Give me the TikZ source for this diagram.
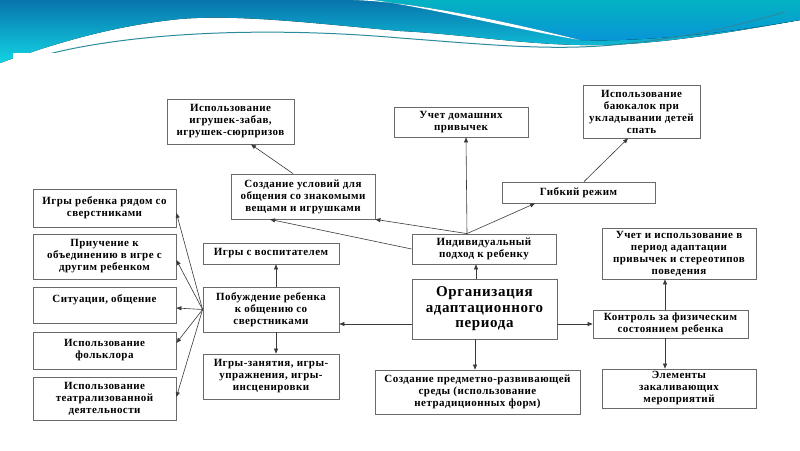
\documentclass[tikz,border=0pt]{standalone}
\usepackage{fontspec}
\setmainfont{Liberation Serif}[LetterSpace=4.0]
\usetikzlibrary{arrows.meta,calc}
\definecolor{hdrTop}{HTML}{0874AC}
\definecolor{hdrBot}{HTML}{12D4E4}
\definecolor{tealTop}{HTML}{04B2C2}
\definecolor{tealBot}{HTML}{0894D8}
\definecolor{waveLine}{HTML}{2A8C9E}
\definecolor{boxc}{HTML}{6A6A6A}
\definecolor{linec}{HTML}{3A3A3A}
\begin{document}
\begin{tikzpicture}[x=1pt,y=-1pt,
  bx/.style={draw=boxc, line width=0.8pt, fill=white, align=center, inner sep=1pt,
    font=\fontsize{11}{12}\selectfont\bfseries},
  con/.style={draw=linec, line width=0.6pt, -{Triangle[length=5pt,width=4pt]}}]
\useasboundingbox (0,0) rectangle (800,450);
\fill[white] (0,0) rectangle (800,450);
% header
\fill[top color=hdrTop, bottom color=hdrBot] (0,0) -- (800,0) -- (800,20)
  .. controls (700,38) and (640,46) .. (580,45)
  .. controls (520,44) and (460,34) .. (400,31)
  .. controls (320,24) and (240,14) .. (180,19)
  .. controls (110,26) and (50,45) .. (0,63) -- cycle;
\fill[top color=tealTop, bottom color=tealBot] (353,0) -- (800,0) -- (800,20)
  .. controls (720,34) and (640,42) .. (580,40)
  .. controls (520,25) and (420,2) .. (353,0) -- cycle;
\fill[white] (353,0) .. controls (420,2) and (520,25) .. (580,40)
  .. controls (520,30) and (430,8) .. (373,0) -- cycle;
\draw[waveLine, line width=1pt] (45,55) .. controls (120,35) and (250,25) .. (400,38)
  .. controls (480,44) and (540,50) .. (600,46) .. controls (680,40) and (740,25) .. (785,12);
\fill[white] (13,53) rectangle (778,450);
% nodes
\node[bx, minimum width=127, minimum height=45] (toys) at (230.5,121.5) {Использование\\игрушек-забав,\\игрушек-сюрпризов};
\node[bx, minimum width=144, minimum height=45] (usl) at (303,196.5) {Создание условий для\\общения со знакомыми\\вещами и игрушками};
\node[bx, minimum width=134, minimum height=30] (home) at (461,122) {Учет домашних\\привычек};
\node[bx, minimum width=117, minimum height=53] (bayu) at (641.5,111.5) {Использование\\баюкалок при\\укладывании детей\\спать};
\node[bx, minimum width=153, minimum height=21] (flex) at (578.5,192.5) {Гибкий режим};
\node[bx, minimum width=144, minimum height=30] (indiv) at (484,249) {Индивидуальный\\подход к ребенку};
\node[bx, minimum width=145, minimum height=60, font=\fontsize{15}{15.5}\selectfont\bfseries] (org) at (484.5,309) {Организация\\адаптационного\\периода};
\node[bx, minimum width=205, minimum height=44] (sreda) at (477.5,392) {Создание предметно-развивающей\\среды (использование\\нетрадиционных форм)};
\node[bx, minimum width=136, minimum height=45] (pob) at (271,309.5) {Побуждение ребенка\\к общению со\\сверстниками};
\node[bx, minimum width=136, minimum height=21] (vosp) at (271,253.5) {Игры с воспитателем};
\node[bx, minimum width=136, minimum height=45] (zan) at (271,376.5) {Игры-занятия, игры-\\упражнения, игры-\\инсценировки};
\node[bx, minimum width=143, minimum height=38] (L1) at (104.5,208) {Игры ребенка рядом со\\сверстниками};
\node[bx, minimum width=143, minimum height=45] (L2) at (104.5,256.5) {Приучение к\\объединению в игре с\\другим ребенком};
\node[bx, minimum width=143, minimum height=36] (L3) at (104.5,305) {Ситуации, общение\\~};
\node[bx, minimum width=143, minimum height=37] (L4) at (104.5,350.5) {Использование\\фольклора};
\node[bx, minimum width=143, minimum height=43] (L5) at (104.5,398.5) {Использование\\театрализованной\\деятельности};
\node[bx, minimum width=154, minimum height=51] (uchet) at (679,253.5) {Учет и использование в\\период адаптации\\привычек и стереотипов\\поведения};
\node[bx, minimum width=155, minimum height=28] (kontr) at (670.5,324) {Контроль за физическим\\состоянием ребенка};
\node[bx, minimum width=154, minimum height=39] (elem) at (679,388.5) {Элементы\\закаливающих\\мероприятий};
% connectors
\draw[con] ($(usl.north)+(-10,0)$) -- ($(toys.south)+(20.5,0)$);
\coordinate (iT) at ($(indiv.north)+(-17,0)$);
\draw[con] (iT) -- ($(home.south)+(5,0)$);
\draw[con] (iT) -- ($(flex.south)+(-43.5,0)$);
\draw[con] (iT) -- (usl.south east);
\draw[con] (indiv.west) -- ($(usl.south)+(-33,0)$);
\draw[con] ($(flex.north)+(5.5,0)$) -- ($(bayu.south)+(-13.5,0)$);
\draw[con] ($(org.north)+(-8.5,0)$) -- ($(indiv.south)+(-8,0)$);
\draw[con] ($(org.south)+(-9.5,0)$) -- ($(sreda.north)+(-2.5,0)$);
\draw[con] ($(org.west)+(0,15)$) -- ($(pob.east)+(0,14.5)$);
\draw[con] ($(org.east)+(0,15)$) -- (kontr.west);
\draw[con] ($(pob.north)+(5,0)$) -- ($(vosp.south)+(5,0)$);
\draw[con] ($(pob.south)+(5,0)$) -- ($(zan.north)+(5,0)$);
\draw[con] (pob.west) -- ($(L1.east)+(0,5)$);
\draw[con] (pob.west) -- ($(L2.east)+(0,3.5)$);
\draw[con] (pob.west) -- ($(L3.east)+(0,3)$);
\draw[con] (pob.west) -- ($(L4.east)+(0,-7.5)$);
\draw[con] (pob.west) -- ($(L5.east)+(0,-1.5)$);
\draw[con] ($(kontr.north)+(-5.5,0)$) -- ($(uchet.south)+(-14,0)$);
\draw[con] ($(kontr.south)+(-5.5,0)$) -- ($(elem.north)+(-14,0)$);
\end{tikzpicture}
\end{document}
